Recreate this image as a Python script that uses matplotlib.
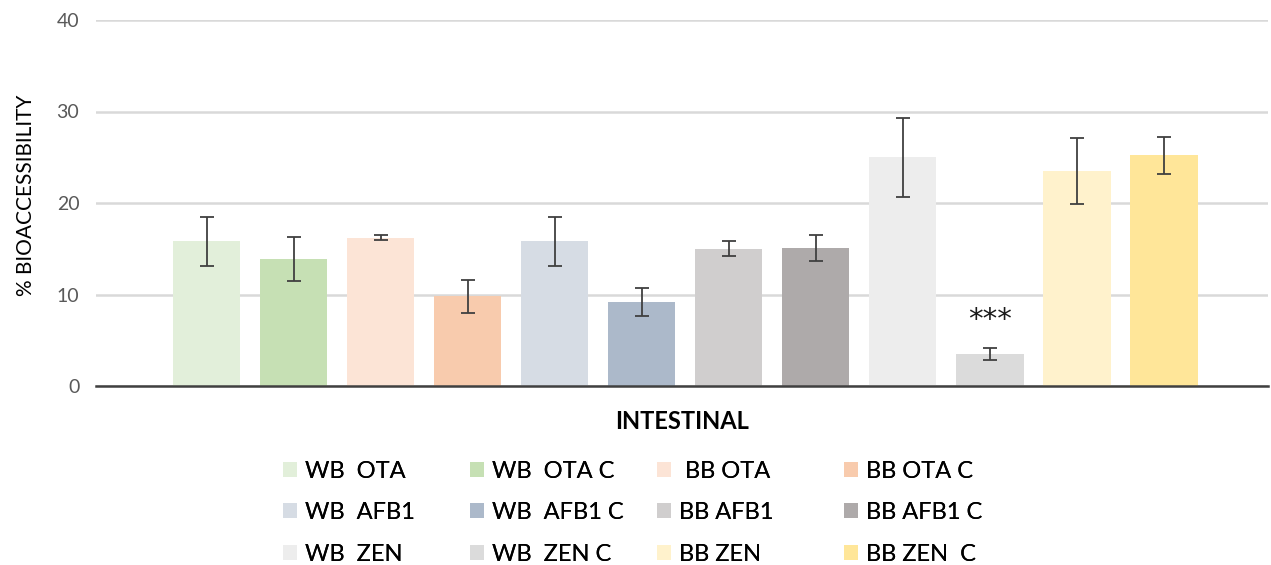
import numpy as np
import matplotlib.pyplot as plt
from matplotlib.patches import Patch

plt.rcParams['font.family'] = ['Lato', 'DejaVu Sans']

# series (one bar each, single category "INTESTINAL")
etikete = ['WB  OTA', 'WB  OTA C', ' BB OTA', 'BB OTA C',
           'WB  AFB1', 'WB  AFB1 C', 'BB AFB1', 'BB AFB1 C',
           'WB  ZEN', 'WB  ZEN C', 'BB ZEN', 'BB ZEN  C']
vrijednosti = [15.8, 13.9, 16.2, 9.8, 15.8, 9.2, 15.0, 15.1, 25.0, 3.5, 23.5, 25.2]
greska = [2.7, 2.4, 0.25, 1.8, 2.7, 1.5, 0.8, 1.4, 4.3, 0.7, 3.6, 2.0]
boje = ['#E2EFDA', '#C6E0B4', '#FCE4D6', '#F8CBAD',
        '#D6DCE4', '#ACB9CA', '#D0CECE', '#AEAAAA',
        '#EDEDED', '#DBDBDB', '#FFF2CC', '#FFE699']
oznaka_idx = 9
oznaka = '***'

fig = plt.figure(figsize=(12.71, 5.65), dpi=100)
ax = fig.add_axes([96/1271, 179/565, 1172/1271, 366/565])

x = np.arange(len(vrijednosti))
ax.bar(x, vrijednosti, width=0.78, color=boje, zorder=2)
ax.errorbar(x, vrijednosti, yerr=greska, fmt='none', ecolor='#404040',
            elinewidth=1.3, capsize=5, capthick=1.3, zorder=3)

ax.text(x[oznaka_idx], vrijednosti[oznaka_idx] + greska[oznaka_idx] + 2.1, oznaka,
        ha='center', va='baseline', fontsize=21, family='DejaVu Sans',
        color='#1a1a1a')

ax.set_xlim(-1.27, 12.2)
ax.set_ylim(0, 40)
ax.set_yticks([0, 10, 20, 30, 40])
ax.set_xticks([])
ax.yaxis.grid(True, color='#D9D9D9', linewidth=1.8, zorder=0)
ax.set_axisbelow(True)
for s in ['top', 'right', 'left']:
    ax.spines[s].set_visible(False)
ax.spines['bottom'].set_color('#404040')
ax.spines['bottom'].set_linewidth(1.8)
ax.spines['bottom'].set_zorder(4)
ax.tick_params(axis='y', length=0, pad=12, labelsize=14, labelcolor='#595959')

ax.set_ylabel('% BIOACCESSIBILITY', fontsize=15, color='black', labelpad=15)
ax.yaxis.label.set_y(0.52)
ax.set_xlabel('INTESTINAL', fontsize=17, fontweight='bold', labelpad=17)

# legend: 4 columns, 3 rows, row-major like Excel
stupci_x = [283, 470, 657, 844]
for c in range(4):
    handles = [Patch(facecolor=boje[r*4 + c], edgecolor='none') for r in range(3)]
    labels = [etikete[r*4 + c] for r in range(3)]
    leg = fig.legend(handles, labels, loc='upper left',
                     bbox_to_anchor=(stupci_x[c]/1271, (565 - 461)/565),
                     frameon=False, fontsize=17, handlelength=0.6,
                     handleheight=0.6, handletextpad=0.35, labelspacing=0.86,
                     borderaxespad=0, borderpad=0)
    fig.add_artist(leg)

fig.savefig('out.png', dpi=100)
